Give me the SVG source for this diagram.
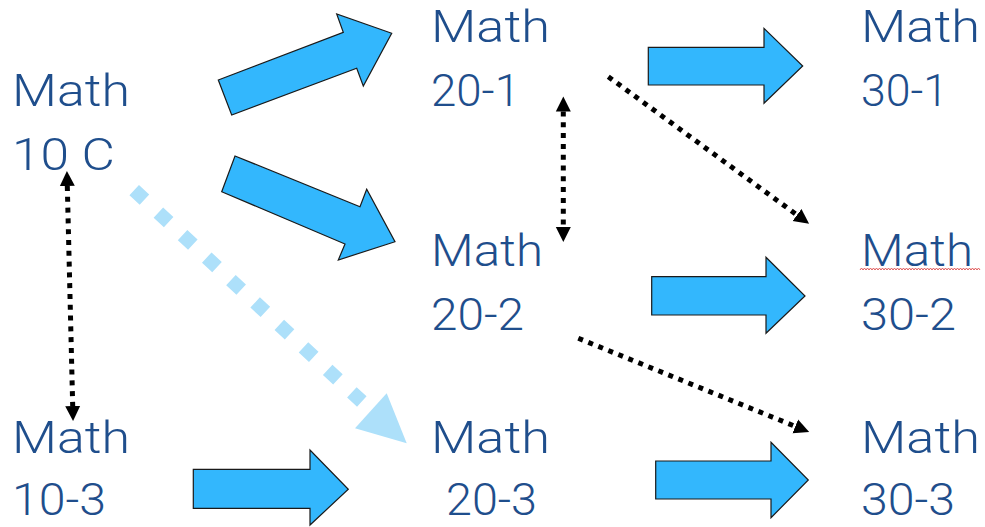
<svg xmlns="http://www.w3.org/2000/svg" width="985" height="527" viewBox="0 0 985 527">
<style>
  .lbl { font-family: Roboto, "DejaVu Sans", "Liberation Sans", sans-serif; font-weight: 300; font-size: 45px; fill: #1F4E8C; }
  .block { fill: #33B7FD; stroke: #1a1a1a; stroke-width: 1.2; stroke-linejoin: miter; }
  .dot { fill: none; stroke: #000; stroke-width: 5; stroke-dasharray: 5 5.8; }
  .light { fill: none; stroke: #ADE0FA; stroke-width: 14; stroke-dasharray: 14 19; }
</style>
<defs>
  <marker id="ah" markerUnits="userSpaceOnUse" markerWidth="16" markerHeight="16" refX="0" refY="8" orient="auto-start-reverse">
    <path d="M0,0.5 L15,8 L0,15.5 z" fill="#000"/>
  </marker>
</defs>
<rect width="985" height="527" fill="#fff"/>

<g id="connectors">
  <polygon class="block" points="218.3,80 343.3,32.3 336.7,14 391.7,33.3 363.3,86 356.7,68.3 231.7,115"/>
  <polygon class="block" points="235,156 360,206.7 366.7,189.3 395,241.7 338.3,260 345,244 221.7,191.7"/>
  <polygon class="block" points="648.3,47.3 764,47.3 764,28.3 802.7,66 764,103.3 764,85 648.3,85"/>
  <polygon class="block" points="651.7,276.7 766,276.7 766,257.3 805,296 766,333.3 766,315 651.7,315"/>
  <polygon class="block" points="193.3,469.3 310,469.3 310,450 348.3,489.3 310,525 310,508.3 193.3,508.3"/>
  <polygon class="block" points="655.7,461 771,461 771,442.3 808.3,480 771,517.7 771,499 655.7,499"/>
  <path class="light" d="M134.2,190.2 L361.8,401.5"/>
  <polygon points="355,428.3 386.7,393.3 406.7,443.3" fill="#ADE0FA"/>
  <path class="dot" d="M67.3,186 L72.7,406" marker-start="url(#ah)" marker-end="url(#ah)"/>
  <path class="dot" d="M563.3,111.5 L563.3,227" marker-start="url(#ah)" marker-end="url(#ah)"/>
  <path class="dot" d="M608.3,76.7 L797,215" marker-end="url(#ah)"/>
  <path class="dot" d="M578.3,338.3 L795.3,426.4" marker-end="url(#ah)"/>
</g>

<g id="math10c">
  <text class="lbl" x="12" y="106" textLength="118" lengthAdjust="spacingAndGlyphs">Math</text>
  <text class="lbl" x="12" y="170" textLength="103" lengthAdjust="spacingAndGlyphs">10 C</text>
</g>
<g id="math10-3">
  <text class="lbl" x="12" y="453" textLength="118" lengthAdjust="spacingAndGlyphs">Math</text>
  <text class="lbl" x="12" y="515" textLength="94" lengthAdjust="spacingAndGlyphs">10-3</text>
</g>
<g id="math20-1">
  <text class="lbl" x="431" y="42" textLength="119" lengthAdjust="spacingAndGlyphs">Math</text>
  <text class="lbl" x="431" y="106" textLength="89" lengthAdjust="spacingAndGlyphs">20-1</text>
</g>
<g id="math20-2">
  <text class="lbl" x="431" y="266" textLength="112" lengthAdjust="spacingAndGlyphs">Math</text>
  <text class="lbl" x="431" y="330" textLength="93" lengthAdjust="spacingAndGlyphs">20-2</text>
</g>
<g id="math20-3">
  <text class="lbl" x="431" y="453" textLength="119" lengthAdjust="spacingAndGlyphs">Math</text>
  <text class="lbl" x="446" y="515" textLength="91" lengthAdjust="spacingAndGlyphs">20-3</text>
</g>
<g id="math30-1">
  <text class="lbl" x="861" y="42" textLength="119" lengthAdjust="spacingAndGlyphs">Math</text>
  <text class="lbl" x="861" y="106" textLength="87" lengthAdjust="spacingAndGlyphs">30-1</text>
</g>
<g id="math30-2">
  <text class="lbl" x="861" y="266" textLength="112" lengthAdjust="spacingAndGlyphs">Math</text>
  <text class="lbl" x="861" y="330" textLength="95" lengthAdjust="spacingAndGlyphs">30-2</text>
  <path d="M860,270 l1.5,-2 l1.5,2 l1.5,-2 l1.5,2 l1.5,-2 l1.5,2 l1.5,-2 l1.5,2 l1.5,-2 l1.5,2 l1.5,-2 l1.5,2 l1.5,-2 l1.5,2 l1.5,-2 l1.5,2 l1.5,-2 l1.5,2 l1.5,-2 l1.5,2 l1.5,-2 l1.5,2 l1.5,-2 l1.5,2 l1.5,-2 l1.5,2 l1.5,-2 l1.5,2 l1.5,-2 l1.5,2 l1.5,-2 l1.5,2 l1.5,-2 l1.5,2 l1.5,-2 l1.5,2 l1.5,-2 l1.5,2 l1.5,-2 l1.5,2 l1.5,-2 l1.5,2 l1.5,-2 l1.5,2 l1.5,-2 l1.5,2 l1.5,-2 l1.5,2 l1.5,-2 l1.5,2 l1.5,-2 l1.5,2 l1.5,-2 l1.5,2 l1.5,-2 l1.5,2 l1.5,-2 l1.5,2 l1.5,-2 l1.5,2 l1.5,-2 l1.5,2 l1.5,-2 l1.5,2 l1.5,-2 l1.5,2 l1.5,-2 l1.5,2 l1.5,-2 l1.5,2 l1.5,-2 l1.5,2 l1.5,-2 l1.5,2 l1.5,-2 l1.5,2 l1.5,-2 l1.5,2 l1.5,-2 l1.5,2" fill="none" stroke="#E05A5A" stroke-width="1"/>
</g>
<g id="math30-3">
  <text class="lbl" x="861" y="453" textLength="119" lengthAdjust="spacingAndGlyphs">Math</text>
  <text class="lbl" x="861" y="515" textLength="94" lengthAdjust="spacingAndGlyphs">30-3</text>
</g>
</svg>
